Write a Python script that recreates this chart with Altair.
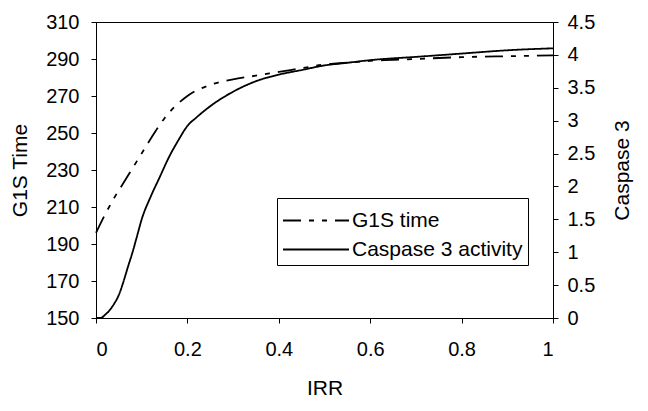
import altair as alt
import pandas as pd

# G1S time (left axis)
irr_g1s = [0, 0.02, 0.04, 0.06, 0.08, 0.1, 0.12, 0.15, 0.2, 0.25, 0.3, 0.35, 0.4, 0.45, 0.5, 0.55, 0.6, 0.7, 0.8, 0.9, 1.0]
g1s_time = [196, 206, 215, 223, 231, 239, 247, 258, 270, 276, 279, 281, 283, 285, 287, 288, 289, 290, 291, 291.5, 292]

# Caspase 3 activity (right axis)
irr_casp = [0, 0.01, 0.02, 0.03, 0.04, 0.05, 0.06, 0.07, 0.08, 0.09, 0.1, 0.12, 0.14, 0.16, 0.18, 0.2, 0.22, 0.25, 0.3, 0.35, 0.4, 0.45, 0.5, 0.55, 0.6, 0.7, 0.8, 0.9, 1.0]
caspase = [0, 0.0, 0.05, 0.12, 0.22, 0.35, 0.55, 0.78, 1.0, 1.25, 1.5, 1.85, 2.15, 2.45, 2.7, 2.92, 3.05, 3.22, 3.44, 3.6, 3.7, 3.77, 3.84, 3.88, 3.92, 3.97, 4.02, 4.07, 4.1]

series_names = ["G1S time", "Caspase 3 activity"]
left_ticks = list(range(150, 311, 20))
right_ticks = [i * 0.5 for i in range(10)]
x_ticks = [0, 0.2, 0.4, 0.6, 0.8, 1.0]

df_g = pd.DataFrame({"IRR": irr_g1s, "G1S": g1s_time, "series": series_names[0]})
df_c = pd.DataFrame({"IRR": irr_casp, "Casp": caspase, "series": series_names[1]})

FONT = "Liberation Sans"
LFS = 20
TFS = 21

dash = alt.StrokeDash(
    "series:N",
    scale=alt.Scale(domain=series_names, range=[[18, 8, 5, 8, 5, 8], [1, 0]]),
    legend=alt.Legend(
        title=None, orient="none", legendX=181, legendY=176,
        strokeColor="black", fillColor="white", padding=5,
        symbolType="M-1,0H3", symbolSize=1089, symbolStrokeWidth=2,
        symbolStrokeColor="black", labelFontSize=21, labelFont=FONT,
        labelColor="black", rowPadding=1, labelOffset=35, labelLimit=400,
    ),
)

xenc = alt.X("IRR:Q", scale=alt.Scale(domain=[0, 1], nice=False),
             axis=alt.Axis(title="IRR", values=x_ticks, format="~g", labelPadding=16, titlePadding=18))

g_line = alt.Chart(df_g).mark_line(color="black", strokeWidth=1.8, interpolate="monotone").encode(
    x=xenc,
    y=alt.Y("G1S:Q", scale=alt.Scale(domain=[150, 310], nice=False, zero=False),
            axis=alt.Axis(title="G1S Time", values=left_ticks, orient="left", labelPadding=12, titlePadding=15)),
    strokeDash=dash,
)

c_line = alt.Chart(df_c).mark_line(color="black", strokeWidth=1.8, interpolate="monotone").encode(
    x=xenc,
    y=alt.Y("Casp:Q", scale=alt.Scale(domain=[0, 4.5], nice=False),
            axis=alt.Axis(title="Caspase 3", values=right_ticks, format="~g", orient="right",
                          labelPadding=9, titlePadding=38, titleAngle=270)),
    strokeDash=dash,
)

chart = alt.layer(g_line, c_line).resolve_scale(y="independent").properties(
    width=457, height=296,
    autosize=alt.AutoSizeParams(type="none"),
    padding={"left": 88, "top": 14, "right": 85, "bottom": 85},
    background="white",
).configure_view(stroke="black", strokeWidth=1).configure_axis(
    domainColor="black", tickColor="black", labelColor="black", titleColor="black",
    labelFont=FONT, titleFont=FONT, labelFontSize=LFS, titleFontSize=TFS,
    titleFontWeight="normal", grid=False, tickSize=5, domainWidth=1,
)

chart.save("out.html", embed_options={"renderer": "svg", "actions": False})
